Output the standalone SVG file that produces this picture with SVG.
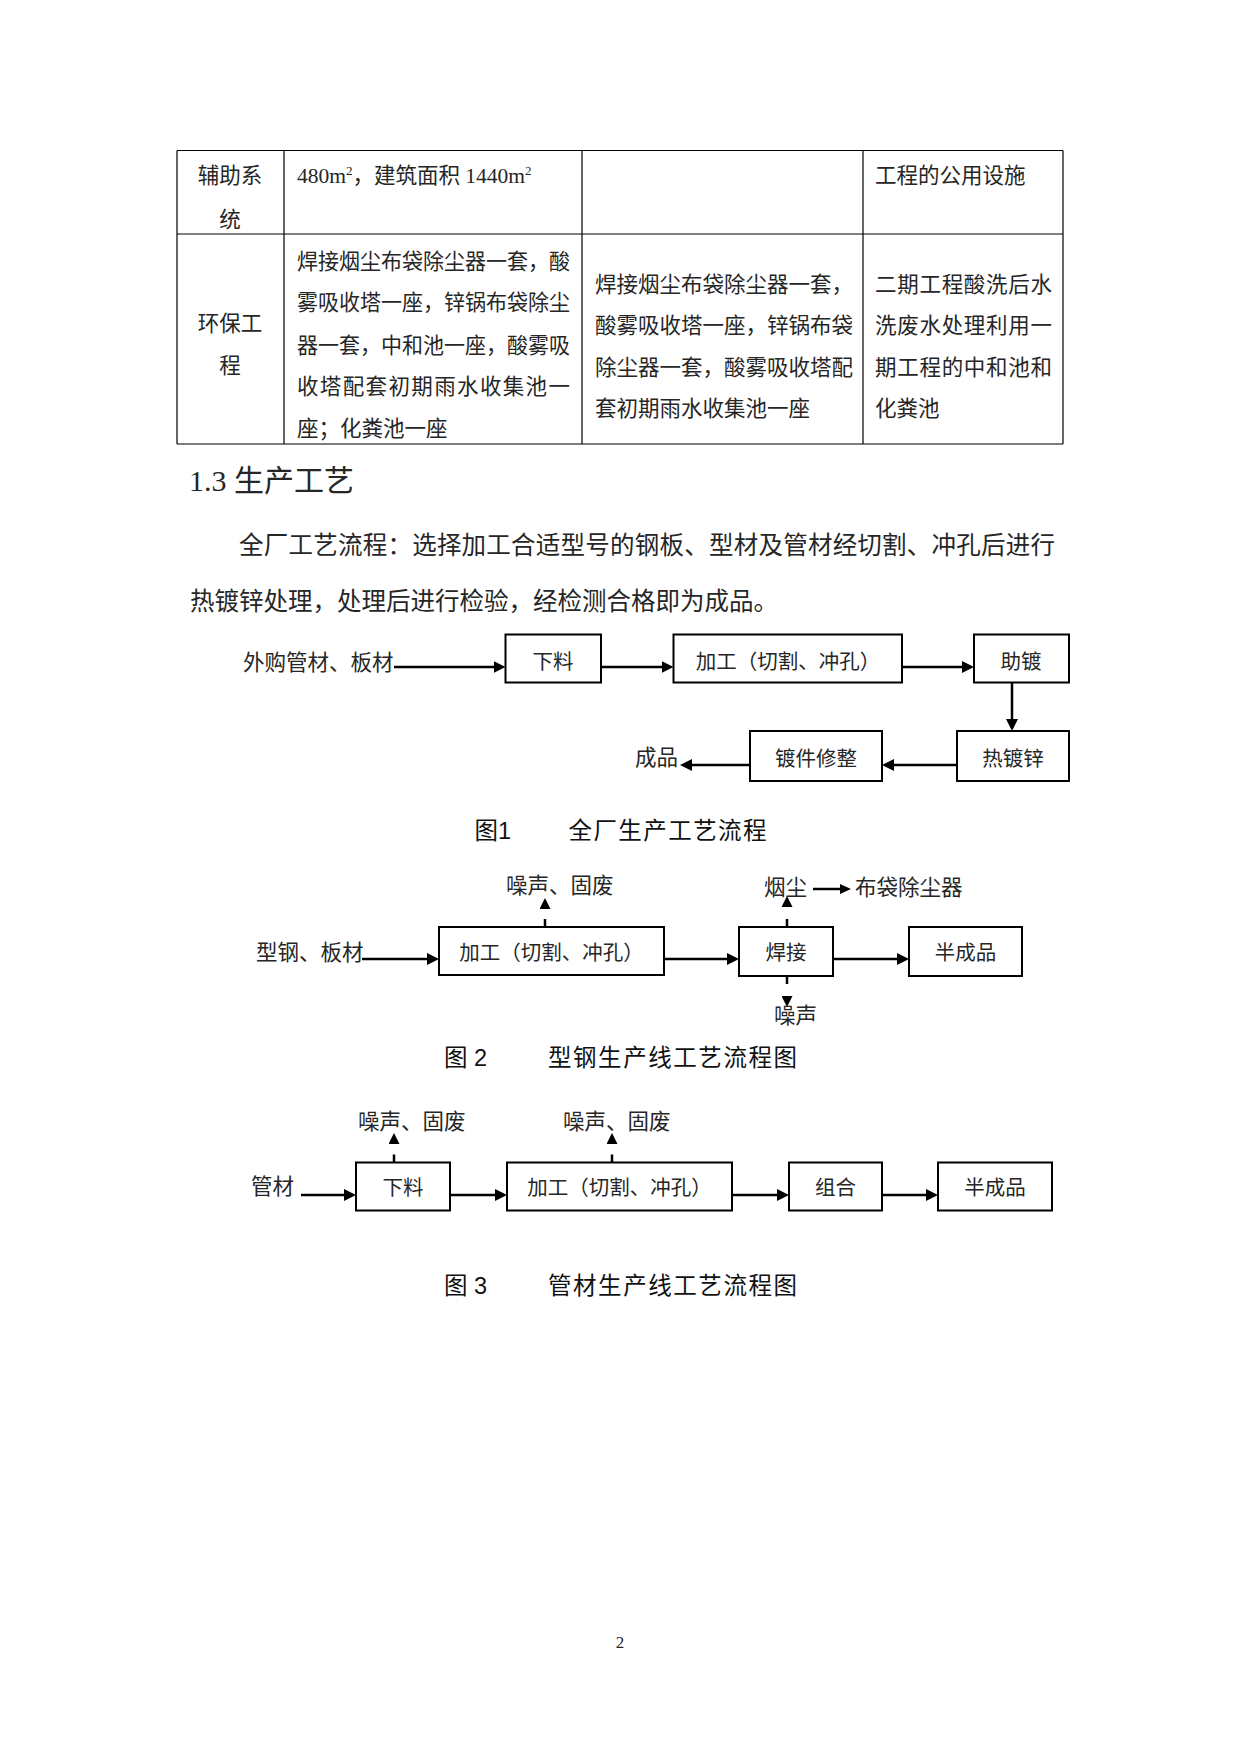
<svg xmlns="http://www.w3.org/2000/svg" width="1241" height="1754" viewBox="0 0 1241 1754">
<style>
.t{font-family:"Liberation Serif","Noto Sans CJK SC",serif;font-size:21.5px;fill:#262626}
.b{font-family:"Liberation Serif","Noto Sans CJK SC",serif;font-size:20.5px;fill:#262626;text-anchor:middle}
.m{text-anchor:middle}
.h{font-family:"Liberation Serif","Noto Sans CJK SC",serif;font-size:30px;fill:#262626}
.p{font-family:"Liberation Serif","Noto Sans CJK SC",serif;font-size:24.5px;fill:#262626}
.c{font-family:"Liberation Sans","Noto Sans CJK SC",sans-serif;font-size:23.5px;fill:#111}
.sup{font-size:13px}
.grid{stroke:#000;stroke-width:1.2;fill:none}
.bx{fill:#fff;stroke:#000;stroke-width:2}
.ln{stroke:#000;stroke-width:2.5;fill:none}
.ds{stroke:#000;stroke-width:2.5;fill:none;stroke-dasharray:8 40}
</style>
<defs>
<marker id="a12" markerUnits="userSpaceOnUse" markerWidth="12" markerHeight="12" refX="3" refY="6" orient="auto"><path d="M0,0 L12,6 L0,12 z" fill="#000"/></marker>
<marker id="a10" markerUnits="userSpaceOnUse" markerWidth="11" markerHeight="10" refX="3" refY="5" orient="auto"><path d="M0,0 L11,5 L0,10 z" fill="#000"/></marker>
<marker id="d10" markerUnits="userSpaceOnUse" markerWidth="11" markerHeight="11" refX="0" refY="5.5" orient="auto"><path d="M0,0 L11,5.5 L0,11 z" fill="#000"/></marker>
</defs>
<rect width="1241" height="1754" fill="#fff"/>

<g id="table">
<path class="grid" d="M177,150.5 H1063 M177,234 H1063 M177,444 H1063 M177,150.5 V444 M284,150.5 V444 M582,150.5 V444 M863,150.5 V444 M1063,150.5 V444"/>
<text class="t m" x="230" y="183">辅助系</text>
<text class="t m" x="230" y="227">统</text>
<text class="t" x="297" y="183">480m<tspan class="sup" dy="-8">2</tspan><tspan dy="8">，建筑面积 1440m</tspan><tspan class="sup" dy="-8">2</tspan></text>
<text class="t" x="875" y="183">工程的公用设施</text>
<text class="t m" x="230" y="331">环保工</text>
<text class="t m" x="230" y="373">程</text>
<text class="t" x="297" y="269" textLength="273" lengthAdjust="spacingAndGlyphs">焊接烟尘布袋除尘器一套，酸</text>
<text class="t" x="297" y="310" textLength="273" lengthAdjust="spacingAndGlyphs">雾吸收塔一座，锌锅布袋除尘</text>
<text class="t" x="297" y="353" textLength="273" lengthAdjust="spacingAndGlyphs">器一套，中和池一座，酸雾吸</text>
<text class="t" x="297" y="394" textLength="273" lengthAdjust="spacing">收塔配套初期雨水收集池一</text>
<text class="t" x="297" y="436">座；化粪池一座</text>
<text class="t" x="595" y="292">焊接烟尘布袋除尘器一套，</text>
<text class="t" x="595" y="333">酸雾吸收塔一座，锌锅布袋</text>
<text class="t" x="595" y="374.5">除尘器一套，酸雾吸收塔配</text>
<text class="t" x="595" y="416">套初期雨水收集池一座</text>
<text class="t" x="875" y="292" textLength="177" lengthAdjust="spacing">二期工程酸洗后水</text>
<text class="t" x="875" y="333" textLength="177" lengthAdjust="spacing">洗废水处理利用一</text>
<text class="t" x="875" y="374.5" textLength="177" lengthAdjust="spacing">期工程的中和池和</text>
<text class="t" x="875" y="416">化粪池</text>
</g>

<g id="heading">
<text class="h" x="189" y="491">1.3 生产工艺</text>
</g>
<g id="paragraph">
<text class="p" x="239" y="554" textLength="816" lengthAdjust="spacing">全厂工艺流程：选择加工合适型号的钢板、型材及管材经切割、冲孔后进行</text>
<text class="p" x="190" y="610">热镀锌处理，处理后进行检验，经检测合格即为成品。</text>
</g>

<g id="connectors">
<path class="ln" d="M394,667 H496.5" marker-end="url(#a12)"/>
<path class="ln" d="M601,667 H664.5" marker-end="url(#a12)"/>
<path class="ln" d="M902,667 H965" marker-end="url(#a12)"/>
<path class="ln" d="M1012,682.5 V722" marker-end="url(#a12)"/>
<path class="ln" d="M957,765 H891" marker-end="url(#a12)"/>
<path class="ln" d="M750,765 H689" marker-end="url(#a12)"/>

<path class="ln" d="M362,959 H430" marker-end="url(#a12)"/>
<path class="ln" d="M664,959 H730" marker-end="url(#a12)"/>
<path class="ln" d="M833,959 H900" marker-end="url(#a12)"/>
<path class="ds" d="M545,927 V909" marker-end="url(#d10)"/>
<path class="ds" d="M787,927 V907" marker-end="url(#d10)"/>
<path class="ln" d="M813,889 H843" marker-end="url(#a10)"/>
<path class="ds" d="M787,976 V996" marker-end="url(#d10)"/>

<path class="ln" d="M301,1195 H347" marker-end="url(#a12)"/>
<path class="ln" d="M450,1195 H498" marker-end="url(#a12)"/>
<path class="ln" d="M732,1195 H780" marker-end="url(#a12)"/>
<path class="ln" d="M882,1195 H929" marker-end="url(#a12)"/>
<path class="ds" d="M394,1162.5 V1144" marker-end="url(#d10)"/>
<path class="ds" d="M612,1162.5 V1144" marker-end="url(#d10)"/>
</g>

<g id="fig1">
<g id="f1-src"><text class="t" x="243" y="670">外购管材、板材</text></g>
<g id="f1-xialiao"><rect class="bx" x="505.5" y="634.5" width="95.5" height="48"/><text class="b" x="553" y="669">下料</text></g>
<g id="f1-jiagong"><rect class="bx" x="673.5" y="634.5" width="228.5" height="48"/><text class="b" x="788" y="669">加工（切割、冲孔）</text></g>
<g id="f1-zhudu"><rect class="bx" x="974" y="634.5" width="95" height="48"/><text class="b" x="1021" y="669">助镀</text></g>
<g id="f1-redu"><rect class="bx" x="957" y="731" width="112" height="50"/><text class="b" x="1013" y="766">热镀锌</text></g>
<g id="f1-xiuzheng"><rect class="bx" x="750" y="731" width="132" height="50"/><text class="b" x="816" y="766">镀件修整</text></g>
<g id="f1-product"><text class="t" x="635" y="765">成品</text></g>
<g id="f1-caption"><text class="c" x="474.5" y="839">图1</text><text class="c" x="568.5" y="839" textLength="198" lengthAdjust="spacing">全厂生产工艺流程</text></g>
</g>

<g id="fig2">
<g id="f2-src"><text class="t" x="256" y="959.5">型钢、板材</text></g>
<g id="f2-jiagong"><rect class="bx" x="439" y="927" width="225" height="48"/><text class="b" x="551.5" y="960">加工（切割、冲孔）</text></g>
<g id="f2-hanjie"><rect class="bx" x="739" y="927" width="94" height="49"/><text class="b" x="786" y="960">焊接</text></g>
<g id="f2-semi"><rect class="bx" x="909" y="927" width="113" height="49"/><text class="b" x="965.5" y="960">半成品</text></g>
<g id="f2-noise1"><text class="t" x="506" y="893">噪声、固废</text></g>
<g id="f2-dust"><text class="t" x="764" y="895">烟尘</text></g>
<g id="f2-bag"><text class="t" x="855" y="895">布袋除尘器</text></g>
<g id="f2-noise2"><text class="t" x="774" y="1023">噪声</text></g>
<g id="f2-caption"><text class="c" x="444" y="1066">图 2</text><text class="c" x="548" y="1066" textLength="249" lengthAdjust="spacing">型钢生产线工艺流程图</text></g>
</g>

<g id="fig3">
<g id="f3-src"><text class="t" x="251" y="1194">管材</text></g>
<g id="f3-xialiao"><rect class="bx" x="356" y="1162.5" width="94" height="48"/><text class="b" x="403" y="1195">下料</text></g>
<g id="f3-jiagong"><rect class="bx" x="507" y="1162.5" width="225" height="48"/><text class="b" x="619.5" y="1195">加工（切割、冲孔）</text></g>
<g id="f3-zuhe"><rect class="bx" x="789" y="1162.5" width="93" height="48"/><text class="b" x="835.5" y="1195">组合</text></g>
<g id="f3-semi"><rect class="bx" x="938" y="1162.5" width="114" height="48"/><text class="b" x="995" y="1195">半成品</text></g>
<g id="f3-noise1"><text class="t" x="358" y="1129">噪声、固废</text></g>
<g id="f3-noise2"><text class="t" x="563" y="1129">噪声、固废</text></g>
<g id="f3-caption"><text class="c" x="444" y="1294">图 3</text><text class="c" x="548" y="1294" textLength="249" lengthAdjust="spacing">管材生产线工艺流程图</text></g>
</g>

<g id="page-number"><text class="t m" x="620" y="1648" style="font-size:17px">2</text></g>
</svg>
